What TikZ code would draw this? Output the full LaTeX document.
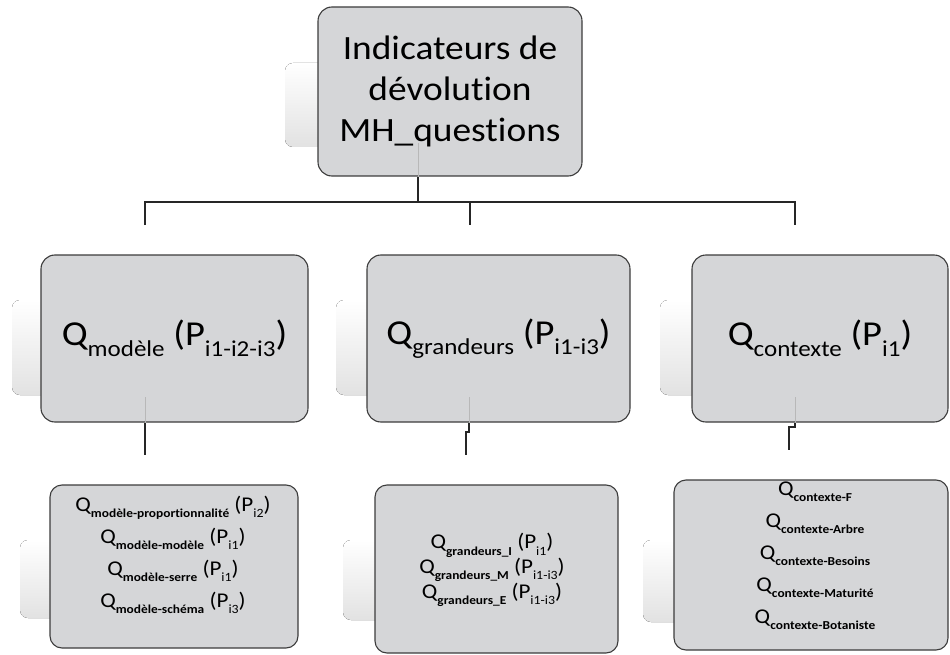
\documentclass[tikz,border=0pt]{standalone}
\usepackage{fontspec}
\setmainfont{Carlito}[FakeStretch=1.1, RawFeature={-liga;-dlig;-calt}]
\usepackage{graphicx}
\newcommand\nl{\kern0pt }
\newcommand\lsub[1]{\raisebox{-0.3em}{\scalebox{0.65}{#1}}}
\newcommand\lsubb[1]{\raisebox{-0.3em}{\scalebox{0.58}{\bfseries #1}}}
\newcommand\lsubs[1]{\raisebox{-0.3em}{\scalebox{0.6}{#1}}}
\definecolor{boxfill}{HTML}{D5D6D8}
\definecolor{boxline}{HTML}{3C3C3C}
\definecolor{faint}{HTML}{B8B8B8}
\definecolor{shade}{HTML}{E2E2E2}
\tikzset{
  box/.style={draw=boxline, line width=1.1pt, fill=boxfill, rounded corners=14pt, inner sep=0pt, align=center},
  sbox/.style={draw=boxline, line width=1.1pt, fill=boxfill, rounded corners=12pt, inner sep=0pt},
  refl/.style={top color=white, bottom color=shade, draw=none, rounded corners=8pt},
  conn/.style={draw=black!85, line width=1.2pt},
  faintline/.style={draw=faint, line width=0.9pt},
  bigtxt/.style={font=\fontsize{34}{41}\selectfont},
  midtxt/.style={font=\fontsize{35}{40}\selectfont},
  smalltxt/.style={font=\fontsize{21}{32}\selectfont, align=center},
}
\begin{document}
\begin{tikzpicture}[x=1pt,y=-1pt]
\useasboundingbox (0,0) rectangle (950,655);
% reflections
\fill[refl] (285,63) rectangle (330,147);
\fill[refl] (12,300) rectangle (55,395);
\fill[refl] (336,300) rectangle (380,395);
\fill[refl] (660,300) rectangle (705,395);
\fill[refl] (20,540) rectangle (60,618);
\fill[refl] (343,540) rectangle (385,620);
\fill[refl] (643,540) rectangle (684,622);
% boxes
\node[box, bigtxt, minimum width=264pt, minimum height=169pt] (top) at (450,91.5)
  {Indicateurs de\\dévolut\nl ion\\MH\_quest\nl ions};
\node[box, midtxt, minimum width=267pt, minimum height=167pt] (m1) at (174.5,338.5)
  {Q\lsub{modèle} (P\lsub{i1-i2-i3})};
\node[box, midtxt, minimum width=263pt, minimum height=167pt] (m2) at (498.5,338.5)
  {Q\lsub{grandeurs} (P\lsub{i1-i3})};
\node[box, midtxt, minimum width=256pt, minimum height=167pt] (m3) at (820,338.5)
  {Q\lsub{contexte} (P\lsub{i1})};
\node[sbox, minimum width=248pt, minimum height=163pt] (b1) at (174,566.5) {};
\node[sbox, minimum width=243pt, minimum height=168pt] (b2) at (496.5,569) {};
\node[sbox, minimum width=274pt, minimum height=170pt] (b3) at (811,565) {};
% bottom texts
\node[smalltxt] (b1t) at (173,555)
  {Q\lsubb{modèle-proport\nl ionnalité} (P\lsubs{i2})\\
   Q\lsubb{modèle-modèle} (P\lsubs{i1})\\
   Q\lsubb{modèle-serre} (P\lsubs{i1})\\
   Q\lsubb{modèle-schéma} (P\lsubs{i3})};
\node[smalltxt, font=\fontsize{21}{23}\selectfont] (b2t) at (492,570)
  {Q\lsubb{grandeurs\_I} (P\lsubs{i1})\\
   Q\lsubb{grandeurs\_M} (P\lsubs{i1-i3})\\
   Q\lsubb{grandeurs\_E} (P\lsubs{i1-i3})};
\node[smalltxt, font=\fontsize{21}{32}\selectfont] (b3t) at (815,556)
  {Q\lsubb{contexte-F}\\
   Q\lsubb{contexte-Arbre}\\
   Q\lsubb{contexte-Besoins}\\
   Q\lsubb{contexte-Maturité}\\
   Q\lsubb{contexte-Botaniste}};
% connector coordinates
\coordinate (ts) at (418,202);
\coordinate (tf) at (418,143);
\coordinate (hL) at (145,202);
\coordinate (hM) at (470,202);
\coordinate (hR) at (795,202);
\coordinate (d1) at (145,225);
\coordinate (d2) at (470,225);
\coordinate (d3) at (795,225);
\coordinate (f1) at (145,397);
\coordinate (f2) at (469,397);
\coordinate (f3) at (795,397);
\coordinate (e1) at (145,455);
\coordinate (j2) at (469,432);
\coordinate (k2) at (466,432);
\coordinate (e2) at (466,455);
\coordinate (j3) at (795,427);
\coordinate (k3) at (789,427);
\coordinate (e3) at (789,450);
% faint parts inside boxes
\draw[faintline] (tf) -- (top.south -| tf);
\draw[faintline] (f1) -- (m1.south -| f1);
\draw[faintline] (f2) -- (m2.south -| f2);
\draw[faintline] (f3) -- (m3.south -| f3);
% connectors
\draw[conn] (top.south -| tf) -- (ts);
\draw[conn] (d1) -- (hL) -- (hR) -- (d3);
\draw[conn] (hM) -- (d2);
\draw[conn] (m1.south -| f1) -- (e1);
\draw[conn] (m2.south -| f2) -- (j2) -- (k2) -- (e2);
\draw[conn] (m3.south -| f3) -- (j3) -- (k3) -- (e3);
\end{tikzpicture}
\end{document}
